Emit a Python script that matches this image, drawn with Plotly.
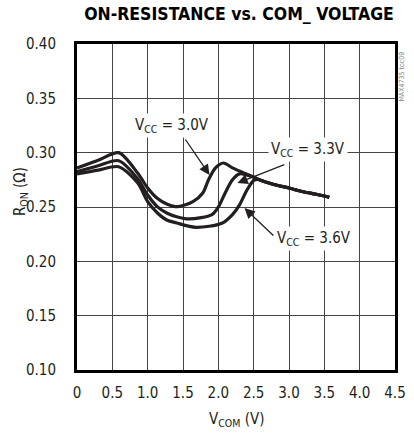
import plotly.graph_objects as go

# Data
v_30 = [0.0, 0.3, 0.59, 0.86, 1.0, 1.135, 1.27, 1.43, 1.64, 1.78, 1.86, 1.96, 2.07, 2.2, 2.32, 2.5, 2.6, 2.8, 3.0, 3.2, 3.4, 3.57]
r_30 = [0.286, 0.293, 0.300, 0.281, 0.2675, 0.258, 0.2528, 0.2503, 0.2549, 0.2629, 0.2749, 0.286, 0.2905, 0.286, 0.2825, 0.2775, 0.2745, 0.2705, 0.2675, 0.264, 0.2615, 0.259]

v_33 = [0.0, 0.3, 0.59, 0.86, 1.0, 1.135, 1.27, 1.41, 1.59, 1.91, 2.0, 2.09, 2.2, 2.3, 2.4, 2.5, 2.6, 2.8, 3.0, 3.2, 3.4, 3.57]
r_33 = [0.2825, 0.288, 0.2926, 0.2758, 0.261, 0.2503, 0.2445, 0.2411, 0.239, 0.243, 0.250, 0.262, 0.275, 0.2805, 0.2795, 0.2775, 0.2745, 0.2705, 0.2675, 0.264, 0.2615, 0.259]

v_36 = [0.0, 0.3, 0.59, 0.86, 1.0, 1.135, 1.27, 1.41, 1.68, 2.05, 2.2, 2.3, 2.4, 2.5, 2.56, 2.65, 2.8, 3.0, 3.2, 3.4, 3.57]
r_36 = [0.2804, 0.284, 0.287, 0.272, 0.2549, 0.2447, 0.238, 0.2353, 0.2313, 0.235, 0.243, 0.252, 0.265, 0.2745, 0.2755, 0.2735, 0.2705, 0.2675, 0.264, 0.2615, 0.259]

x_ticks = [0, 0.5, 1.0, 1.5, 2.0, 2.5, 3.0, 3.5, 4.0, 4.5]
x_labels = ["0", "0.5", "1.0", "1.5", "2.0", "2.5", "3.0", "3.5", "4.0", "4.5"]
y_ticks = [0.10, 0.15, 0.20, 0.25, 0.30, 0.35, 0.40]
y_labels = ["0.10", "0.15", "0.20", "0.25", "0.30", "0.35", "0.40"]

FONT = "DejaVu Sans Condensed, Liberation Sans Narrow, sans-serif"
INK = "#231f20"

fig = go.Figure()
for vx, ry in [(v_36, r_36), (v_33, r_33), (v_30, r_30)]:
    fig.add_trace(go.Scatter(x=vx, y=ry, mode="lines", line=dict(color=INK, width=3.2, shape="spline", smoothing=0.8),
                             hoverinfo="skip", showlegend=False))

# arrows (tail -> tip)
arrows = [
    (1.52, 0.3135, 1.875, 0.2795),
    (2.955, 0.2896, 2.27, 0.272),
    (2.80, 0.2224, 2.37, 0.249),
]
for ax_, ay_, x_, y_ in arrows:
    fig.add_annotation(x=x_, y=y_, ax=ax_, ay=ay_, xref="x", yref="y", axref="x", ayref="y",
                       text="", showarrow=True, arrowhead=2, arrowsize=1.6, arrowwidth=1.3, arrowcolor=INK)

labels = [
    ("V<sub>CC</sub> = 3.0V", 1.34, 0.325),
    ("V<sub>CC</sub> = 3.3V", 3.27, 0.3025),
    ("V<sub>CC</sub> = 3.6V", 3.35, 0.2206),
]
for t, x_, y_ in labels:
    fig.add_annotation(x=x_, y=y_, xref="x", yref="y", text=t, showarrow=False,
                       xanchor="center", yanchor="middle",
                       font=dict(family=FONT, size=15, color=INK), bgcolor="white", borderpad=2)

# y-axis title
fig.add_annotation(x=-0.179, y=0.546, xref="paper", yref="paper", text="R<sub>ON</sub> (Ω)", textangle=-90,
                   xanchor="center", yanchor="middle",
                   showarrow=False, font=dict(family=FONT, size=15, color=INK))
# x-axis title
fig.add_annotation(x=0.5, y=-0.153, xref="paper", yref="paper", text="V<sub>COM</sub> (V)",
                   xanchor="center", yanchor="middle",
                   showarrow=False, font=dict(family=FONT, size=15, color=INK))
# side code
fig.add_annotation(x=1.0, y=0.90, xref="paper", yref="paper", text="MAX4735 toc09", textangle=-90,
                   xanchor="left", yanchor="middle", xshift=1,
                   showarrow=False, font=dict(family=FONT, size=7, color="#888888"))

fig.update_layout(
    width=414, height=435,
    margin=dict(l=77, r=8, t=44, b=65),
    paper_bgcolor="white", plot_bgcolor="white",
    title=dict(text="<b>ON-RESISTANCE vs. COM_ VOLTAGE</b>", x=239 / 414, xanchor="center",
               y=1 - 14 / 435, yanchor="middle", font=dict(family=FONT, size=17.5, color="black")),
    font=dict(family=FONT, size=15, color=INK),
)
fig.update_xaxes(range=[0, 4.5], tickvals=x_ticks, ticktext=x_labels, showgrid=True, gridcolor="#444444",
                 gridwidth=1, showline=True, linecolor="black", linewidth=3, mirror=True, ticks="",
                 ticklabelstandoff=7, zeroline=False, tickfont=dict(family=FONT, size=15, color=INK))
fig.update_yaxes(range=[0.10, 0.40], tickvals=y_ticks, ticktext=y_labels, showgrid=True, gridcolor="#444444",
                 gridwidth=1, showline=True, linecolor="black", linewidth=3, mirror=True, ticks="",
                 ticklabelstandoff=15, zeroline=False, tickfont=dict(family=FONT, size=15, color=INK))

fig.write_html("out.html", config={"displayModeBar": False},
               post_script="document.body.style.margin='0';document.body.style.overflow='hidden';")
